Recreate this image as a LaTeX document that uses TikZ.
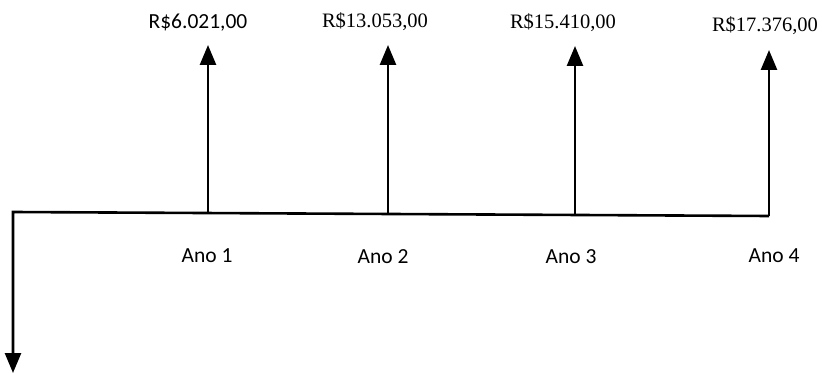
\documentclass[tikz,border=0pt]{standalone}
\usepackage{fontspec}
\setmainfont{Liberation Serif}
\newfontfamily\calibri{Carlito}
\usetikzlibrary{arrows.meta}

\begin{document}
\begin{tikzpicture}[x=1pt,y=-1pt]
   \tikzset{FlowStyle/.style={line width=2.6pt,line join=miter,-{Triangle[width=16pt,length=20pt]}}}
   \tikzset{ValueStyle/.style={anchor=base,inner sep=0pt,font=\fontsize{20.5}{24}\selectfont}}
   \tikzset{YearStyle/.style={anchor=base,inner sep=0pt,font=\calibri\fontsize{21.5}{26}\selectfont}}
   \useasboundingbox (0,0) rectangle (822,374);
   \coordinate (t0) at (13,212);
   \coordinate (t1) at (208,213);
   \coordinate (t2) at (388,214);
   \coordinate (t3) at (575,215);
   \coordinate (t4) at (769,216);
   \coordinate (out) at (13,373);
   \coordinate (in1) at (208,45);
   \coordinate (in2) at (388,45);
   \coordinate (in3) at (575,46);
   \coordinate (in4) at (769,50);
   \draw[FlowStyle] (t4) -- (t0) -- (out);
   \draw[FlowStyle] (t1) -- (in1);
   \draw[FlowStyle] (t2) -- (in2);
   \draw[FlowStyle] (t3) -- (in3);
   \draw[FlowStyle] (t4) -- (in4);
   \node[ValueStyle,font=\calibri\fontsize{21.5}{26}\selectfont] (v1) at (198,29) {R\$6.021,00};
   \node[ValueStyle] (v2) at (375,28) {R\$13.053,00};
   \node[ValueStyle] (v3) at (563,29) {R\$15.410,00};
   \node[ValueStyle] (v4) at (765,32) {R\$17.376,00};
   \node[YearStyle] (a1) at (207,262) {Ano 1};
   \node[YearStyle] (a2) at (383,264) {Ano 2};
   \node[YearStyle] (a3) at (571,264) {Ano 3};
   \node[YearStyle] (a4) at (774,262) {Ano 4};
\end{tikzpicture}
\end{document}
